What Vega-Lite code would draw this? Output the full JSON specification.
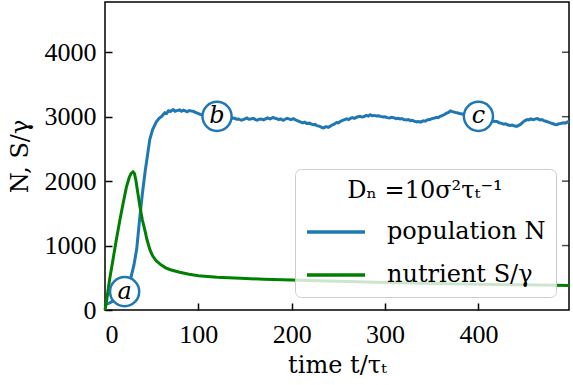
{
  "$schema": "https://vega.github.io/schema/vega-lite/v6.json",
  "width": 464,
  "height": 308,
  "autosize": {"type": "none"},
  "padding": {"left": 105, "top": 2, "right": 4, "bottom": 75},
  "config": {
    "view": {"stroke": "black", "strokeWidth": 1.5},
    "axis": {
      "domain": false, "grid": false, "tickColor": "black", "tickWidth": 1.5, "tickSize": -7,
      "labelFont": "Liberation Serif", "labelFontSize": 26, "labelColor": "black",
      "titleFont": "DejaVu Serif", "titleFontSize": 24, "titleFontWeight": "normal", "titleColor": "black"
    },
    "legend": {
      "orient": "bottom-right", "offset": 13,
      "fillColor": "rgba(255,255,255,0.8)", "strokeColor": "#cccccc", "cornerRadius": 6, "padding": 10,
      "titleFont": "DejaVu Serif", "titleFontSize": 24, "titleFontWeight": "normal", "titleColor": "black",
      "titleAnchor": "middle", "titlePadding": -2,
      "labelFont": "DejaVu Serif", "labelFontSize": 24, "labelColor": "black",
      "symbolType": "stroke", "symbolStrokeWidth": 3.5, "symbolSize": 3364, "labelOffset": 20, "rowPadding": -5
    }
  },
  "datasets": {
    "popN": [
      {"t": 0, "v": 80, "series": "population N"}, {"t": 5, "v": 110, "series": "population N"},
      {"t": 10, "v": 150, "series": "population N"}, {"t": 15, "v": 200, "series": "population N"},
      {"t": 20, "v": 270, "series": "population N"}, {"t": 25, "v": 380, "series": "population N"},
      {"t": 28, "v": 520, "series": "population N"}, {"t": 31, "v": 700, "series": "population N"},
      {"t": 34, "v": 950, "series": "population N"}, {"t": 37, "v": 1400, "series": "population N"},
      {"t": 40, "v": 1800, "series": "population N"}, {"t": 43, "v": 2150, "series": "population N"},
      {"t": 46, "v": 2450, "series": "population N"}, {"t": 48, "v": 2650, "series": "population N"},
      {"t": 51, "v": 2800, "series": "population N"}, {"t": 55, "v": 2920, "series": "population N"},
      {"t": 58, "v": 2975, "series": "population N"}, {"t": 61, "v": 3010, "series": "population N"},
      {"t": 64, "v": 3060, "series": "population N"}, {"t": 66, "v": 3050, "series": "population N"},
      {"t": 68, "v": 3090, "series": "population N"}, {"t": 70, "v": 3080, "series": "population N"},
      {"t": 73, "v": 3110, "series": "population N"}, {"t": 75, "v": 3085, "series": "population N"},
      {"t": 77, "v": 3095, "series": "population N"}, {"t": 80, "v": 3105, "series": "population N"},
      {"t": 82, "v": 3085, "series": "population N"}, {"t": 84, "v": 3100, "series": "population N"},
      {"t": 86, "v": 3090, "series": "population N"}, {"t": 88, "v": 3075, "series": "population N"},
      {"t": 90, "v": 3095, "series": "population N"}, {"t": 92, "v": 3090, "series": "population N"},
      {"t": 95, "v": 3080, "series": "population N"}, {"t": 97, "v": 3065, "series": "population N"},
      {"t": 99, "v": 3055, "series": "population N"}, {"t": 102, "v": 3035, "series": "population N"},
      {"t": 106, "v": 3020, "series": "population N"}, {"t": 110, "v": 3000, "series": "population N"},
      {"t": 115, "v": 2990, "series": "population N"}, {"t": 120, "v": 2985, "series": "population N"},
      {"t": 125, "v": 2980, "series": "population N"}, {"t": 130, "v": 2975, "series": "population N"},
      {"t": 135, "v": 2980, "series": "population N"}, {"t": 139, "v": 2975, "series": "population N"},
      {"t": 141, "v": 2960, "series": "population N"}, {"t": 143, "v": 2965, "series": "population N"},
      {"t": 146, "v": 2945, "series": "population N"}, {"t": 148, "v": 2955, "series": "population N"},
      {"t": 150, "v": 2965, "series": "population N"}, {"t": 152, "v": 2980, "series": "population N"},
      {"t": 154, "v": 2960, "series": "population N"}, {"t": 156, "v": 2965, "series": "population N"},
      {"t": 159, "v": 2975, "series": "population N"}, {"t": 161, "v": 2955, "series": "population N"},
      {"t": 163, "v": 2945, "series": "population N"}, {"t": 165, "v": 2960, "series": "population N"},
      {"t": 167, "v": 2965, "series": "population N"}, {"t": 170, "v": 2950, "series": "population N"},
      {"t": 172, "v": 2965, "series": "population N"}, {"t": 174, "v": 2980, "series": "population N"},
      {"t": 177, "v": 2965, "series": "population N"}, {"t": 180, "v": 2990, "series": "population N"},
      {"t": 182, "v": 2975, "series": "population N"}, {"t": 184, "v": 2970, "series": "population N"},
      {"t": 186, "v": 2955, "series": "population N"}, {"t": 188, "v": 2965, "series": "population N"},
      {"t": 191, "v": 2945, "series": "population N"}, {"t": 193, "v": 2960, "series": "population N"},
      {"t": 195, "v": 2975, "series": "population N"}, {"t": 197, "v": 2965, "series": "population N"},
      {"t": 199, "v": 2955, "series": "population N"}, {"t": 202, "v": 2970, "series": "population N"},
      {"t": 204, "v": 2950, "series": "population N"}, {"t": 206, "v": 2940, "series": "population N"},
      {"t": 209, "v": 2920, "series": "population N"}, {"t": 212, "v": 2905, "series": "population N"},
      {"t": 214, "v": 2915, "series": "population N"}, {"t": 216, "v": 2895, "series": "population N"},
      {"t": 219, "v": 2900, "series": "population N"}, {"t": 221, "v": 2885, "series": "population N"},
      {"t": 223, "v": 2875, "series": "population N"}, {"t": 225, "v": 2880, "series": "population N"},
      {"t": 227, "v": 2860, "series": "population N"}, {"t": 230, "v": 2850, "series": "population N"},
      {"t": 232, "v": 2835, "series": "population N"}, {"t": 234, "v": 2825, "series": "population N"},
      {"t": 237, "v": 2845, "series": "population N"}, {"t": 239, "v": 2835, "series": "population N"},
      {"t": 241, "v": 2850, "series": "population N"}, {"t": 243, "v": 2870, "series": "population N"},
      {"t": 245, "v": 2880, "series": "population N"}, {"t": 248, "v": 2910, "series": "population N"},
      {"t": 250, "v": 2905, "series": "population N"}, {"t": 252, "v": 2925, "series": "population N"},
      {"t": 254, "v": 2940, "series": "population N"}, {"t": 256, "v": 2950, "series": "population N"},
      {"t": 259, "v": 2965, "series": "population N"}, {"t": 261, "v": 2955, "series": "population N"},
      {"t": 263, "v": 2975, "series": "population N"}, {"t": 265, "v": 2985, "series": "population N"},
      {"t": 267, "v": 2975, "series": "population N"}, {"t": 270, "v": 2995, "series": "population N"},
      {"t": 273, "v": 3005, "series": "population N"}, {"t": 275, "v": 2995, "series": "population N"},
      {"t": 277, "v": 3000, "series": "population N"}, {"t": 280, "v": 3020, "series": "population N"},
      {"t": 282, "v": 3010, "series": "population N"}, {"t": 284, "v": 3030, "series": "population N"},
      {"t": 286, "v": 3015, "series": "population N"}, {"t": 288, "v": 3020, "series": "population N"},
      {"t": 291, "v": 3010, "series": "population N"}, {"t": 293, "v": 3015, "series": "population N"},
      {"t": 295, "v": 3005, "series": "population N"}, {"t": 298, "v": 2995, "series": "population N"},
      {"t": 300, "v": 3000, "series": "population N"}, {"t": 302, "v": 2985, "series": "population N"},
      {"t": 305, "v": 2980, "series": "population N"}, {"t": 307, "v": 2990, "series": "population N"},
      {"t": 309, "v": 2985, "series": "population N"}, {"t": 312, "v": 2970, "series": "population N"},
      {"t": 314, "v": 2975, "series": "population N"}, {"t": 316, "v": 2965, "series": "population N"},
      {"t": 318, "v": 2970, "series": "population N"}, {"t": 320, "v": 2955, "series": "population N"},
      {"t": 323, "v": 2950, "series": "population N"}, {"t": 325, "v": 2955, "series": "population N"},
      {"t": 327, "v": 2940, "series": "population N"}, {"t": 329, "v": 2945, "series": "population N"},
      {"t": 331, "v": 2930, "series": "population N"}, {"t": 334, "v": 2920, "series": "population N"},
      {"t": 336, "v": 2925, "series": "population N"}, {"t": 338, "v": 2915, "series": "population N"},
      {"t": 341, "v": 2935, "series": "population N"}, {"t": 343, "v": 2930, "series": "population N"},
      {"t": 345, "v": 2950, "series": "population N"}, {"t": 348, "v": 2955, "series": "population N"},
      {"t": 350, "v": 2970, "series": "population N"}, {"t": 352, "v": 2975, "series": "population N"},
      {"t": 355, "v": 2990, "series": "population N"}, {"t": 357, "v": 2985, "series": "population N"},
      {"t": 359, "v": 3005, "series": "population N"}, {"t": 361, "v": 3015, "series": "population N"},
      {"t": 363, "v": 3030, "series": "population N"}, {"t": 366, "v": 3055, "series": "population N"},
      {"t": 368, "v": 3065, "series": "population N"}, {"t": 370, "v": 3090, "series": "population N"},
      {"t": 373, "v": 3075, "series": "population N"}, {"t": 377, "v": 3060, "series": "population N"},
      {"t": 380, "v": 3050, "series": "population N"}, {"t": 385, "v": 3035, "series": "population N"},
      {"t": 390, "v": 3000, "series": "population N"}, {"t": 395, "v": 2980, "series": "population N"},
      {"t": 400, "v": 2960, "series": "population N"}, {"t": 405, "v": 2945, "series": "population N"},
      {"t": 410, "v": 2935, "series": "population N"}, {"t": 415, "v": 2930, "series": "population N"},
      {"t": 420, "v": 2925, "series": "population N"}, {"t": 422, "v": 2905, "series": "population N"},
      {"t": 424, "v": 2900, "series": "population N"}, {"t": 427, "v": 2885, "series": "population N"},
      {"t": 429, "v": 2890, "series": "population N"}, {"t": 431, "v": 2875, "series": "population N"},
      {"t": 434, "v": 2865, "series": "population N"}, {"t": 436, "v": 2870, "series": "population N"},
      {"t": 438, "v": 2860, "series": "population N"}, {"t": 441, "v": 2850, "series": "population N"},
      {"t": 443, "v": 2865, "series": "population N"}, {"t": 445, "v": 2880, "series": "population N"},
      {"t": 448, "v": 2920, "series": "population N"}, {"t": 450, "v": 2940, "series": "population N"},
      {"t": 452, "v": 2955, "series": "population N"}, {"t": 454, "v": 2950, "series": "population N"},
      {"t": 456, "v": 2965, "series": "population N"}, {"t": 459, "v": 2955, "series": "population N"},
      {"t": 461, "v": 2965, "series": "population N"}, {"t": 463, "v": 2970, "series": "population N"},
      {"t": 466, "v": 2950, "series": "population N"}, {"t": 468, "v": 2955, "series": "population N"},
      {"t": 470, "v": 2940, "series": "population N"}, {"t": 473, "v": 2925, "series": "population N"},
      {"t": 475, "v": 2915, "series": "population N"}, {"t": 477, "v": 2905, "series": "population N"},
      {"t": 480, "v": 2890, "series": "population N"}, {"t": 482, "v": 2880, "series": "population N"},
      {"t": 484, "v": 2877, "series": "population N"}, {"t": 486, "v": 2890, "series": "population N"},
      {"t": 488, "v": 2895, "series": "population N"}, {"t": 491, "v": 2905, "series": "population N"},
      {"t": 493, "v": 2900, "series": "population N"}, {"t": 495, "v": 2915, "series": "population N"},
      {"t": 497, "v": 2928, "series": "population N"}
    ],
    "nutS": [
      {"t": 0, "v": 0, "series": "nutrient S/γ"}, {"t": 2, "v": 170, "series": "nutrient S/γ"},
      {"t": 5, "v": 480, "series": "nutrient S/γ"}, {"t": 9, "v": 820, "series": "nutrient S/γ"},
      {"t": 12, "v": 1080, "series": "nutrient S/γ"}, {"t": 16, "v": 1400, "series": "nutrient S/γ"},
      {"t": 20, "v": 1700, "series": "nutrient S/γ"}, {"t": 23, "v": 1910, "series": "nutrient S/γ"},
      {"t": 26, "v": 2060, "series": "nutrient S/γ"}, {"t": 28, "v": 2120, "series": "nutrient S/γ"},
      {"t": 30, "v": 2145, "series": "nutrient S/γ"}, {"t": 31.5, "v": 2120, "series": "nutrient S/γ"},
      {"t": 33, "v": 2020, "series": "nutrient S/γ"}, {"t": 35, "v": 1830, "series": "nutrient S/γ"},
      {"t": 37.5, "v": 1600, "series": "nutrient S/γ"}, {"t": 40, "v": 1400, "series": "nutrient S/γ"},
      {"t": 43, "v": 1220, "series": "nutrient S/γ"}, {"t": 45, "v": 1090, "series": "nutrient S/γ"},
      {"t": 48, "v": 940, "series": "nutrient S/γ"}, {"t": 51, "v": 840, "series": "nutrient S/γ"},
      {"t": 55, "v": 760, "series": "nutrient S/γ"}, {"t": 60, "v": 700, "series": "nutrient S/γ"},
      {"t": 65, "v": 655, "series": "nutrient S/γ"}, {"t": 70, "v": 625, "series": "nutrient S/γ"},
      {"t": 80, "v": 585, "series": "nutrient S/γ"}, {"t": 90, "v": 555, "series": "nutrient S/γ"},
      {"t": 100, "v": 530, "series": "nutrient S/γ"}, {"t": 120, "v": 508, "series": "nutrient S/γ"},
      {"t": 145, "v": 492, "series": "nutrient S/γ"}, {"t": 170, "v": 478, "series": "nutrient S/γ"},
      {"t": 200, "v": 465, "series": "nutrient S/γ"}, {"t": 250, "v": 445, "series": "nutrient S/γ"},
      {"t": 300, "v": 428, "series": "nutrient S/γ"}, {"t": 350, "v": 413, "series": "nutrient S/γ"},
      {"t": 400, "v": 400, "series": "nutrient S/γ"}, {"t": 450, "v": 390, "series": "nutrient S/γ"},
      {"t": 497, "v": 382, "series": "nutrient S/γ"}
    ],
    "labels": [
      {"t": 21, "v": 285, "lab": "a"},
      {"t": 120, "v": 3005, "lab": "b"},
      {"t": 400, "v": 3005, "lab": "c"}
    ],
    "yticks": [
      {"v": 1000}, {"v": 2000}, {"v": 3000}, {"v": 4000}
    ]
  },
  "layer": [
    {
      "data": {"name": "popN"},
      "mark": {"type": "line", "strokeWidth": 3},
      "encoding": {
        "x": {"field": "t", "type": "quantitative", "scale": {"domain": [0, 497], "nice": false},
              "axis": {"title": "time t/τₜ", "values": [0, 100, 200, 300, 400], "format": "d", "labelPadding": 18, "titlePadding": 6}},
        "y": {"field": "v", "type": "quantitative", "scale": {"domain": [0, 4780], "nice": false},
              "axis": {"title": "N, S/γ", "values": [0, 1000, 2000, 3000, 4000], "format": "d", "labelPadding": 16, "titlePadding": 12}},
        "color": {"field": "series", "type": "nominal",
                  "scale": {"domain": ["population N", "nutrient S/γ"], "range": ["#1f77b4", "#008000"]},
                  "legend": {"title": "Dₙ =10σ²τₜ⁻¹"}}
      }
    },
    {
      "data": {"name": "nutS"},
      "mark": {"type": "line", "strokeWidth": 3},
      "encoding": {
        "x": {"field": "t", "type": "quantitative"},
        "y": {"field": "v", "type": "quantitative"},
        "color": {"field": "series", "type": "nominal"}
      }
    },
    {
      "data": {"name": "labels"},
      "mark": {"type": "point", "filled": true, "fill": "white", "stroke": "#1f77b4", "strokeWidth": 2.5, "size": 850, "opacity": 1},
      "encoding": {
        "x": {"field": "t", "type": "quantitative"},
        "y": {"field": "v", "type": "quantitative"}
      }
    },
    {
      "data": {"name": "labels"},
      "mark": {"type": "text", "font": "DejaVu Serif", "fontStyle": "italic", "fontSize": 24, "color": "black", "baseline": "middle", "align": "center"},
      "encoding": {
        "x": {"field": "t", "type": "quantitative"},
        "y": {"field": "v", "type": "quantitative"},
        "text": {"field": "lab"}
      }
    },
    {
      "data": {"name": "yticks"},
      "mark": {"type": "tick", "orient": "horizontal", "color": "black", "thickness": 1.5, "size": 7, "xOffset": -3.5},
      "encoding": {
        "x": {"datum": 497, "type": "quantitative"},
        "y": {"field": "v", "type": "quantitative"}
      }
    }
  ]
}
